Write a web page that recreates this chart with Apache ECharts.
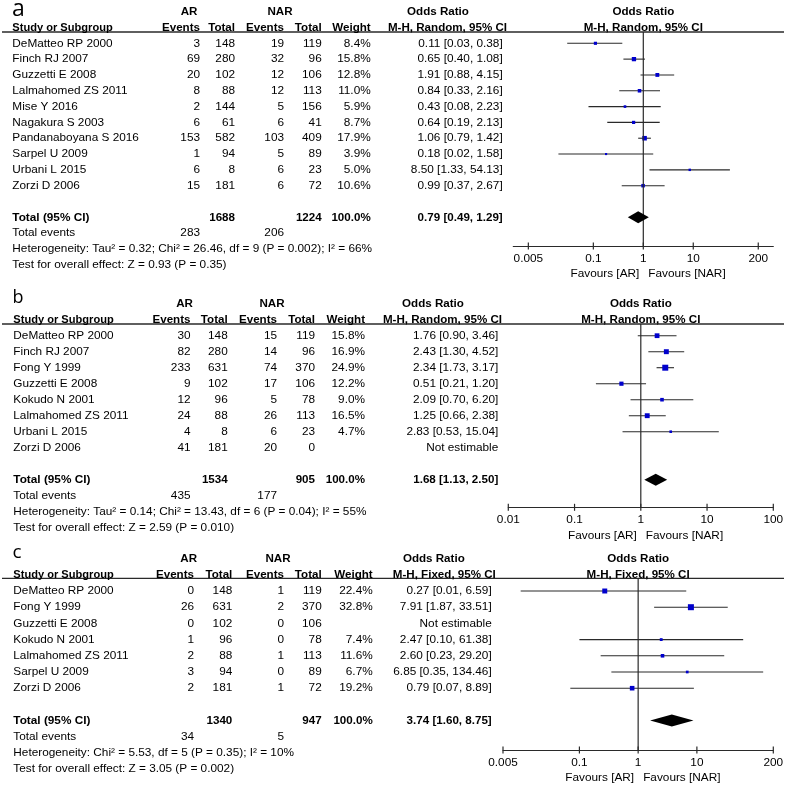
<!DOCTYPE html>
<html><head><meta charset="utf-8">
<script src="https://cdn.jsdelivr.net/npm/echarts@6/dist/echarts.min.js"></script>
<style>html,body{margin:0;padding:0;background:#fff}#c{width:787px;height:787px}</style>
</head><body><div id="c"></div>
<script>
// ---------------- Panel a ----------------
const aStudy = ['DeMatteo RP 2000','Finch RJ 2007','Guzzetti E 2008','Lalmahomed ZS 2011','Mise Y 2016','Nagakura S 2003','Pandanaboyana S 2016','Sarpel U 2009','Urbani L 2015','Zorzi D 2006'];
const aEventsAR = [3,69,20,8,2,6,153,1,6,15];
const aTotalAR = [148,280,102,88,144,61,582,94,8,181];
const aEventsNAR = [19,32,12,12,5,6,103,5,6,6];
const aTotalNAR = [119,96,106,113,156,41,409,89,23,72];
const aWeight = [8.4,15.8,12.8,11.0,5.9,8.7,17.9,3.9,5.0,10.6];
const aOR = [0.11,0.65,1.91,0.84,0.43,0.64,1.06,0.18,8.50,0.99];
const aLower = [0.03,0.40,0.88,0.33,0.08,0.19,0.79,0.02,1.33,0.37];
const aUpper = [0.38,1.08,4.15,2.16,2.23,2.13,1.42,1.58,54.13,2.67];
const aTotals = [1688,1224];
const aTotalEvents = [283,206];
const aPooled = [0.79,0.49,1.29];
const aMethod = 'M-H, Random, 95% CI';
const aHeterogeneity = 'Heterogeneity: Tau\u00b2 = 0.32; Chi\u00b2 = 26.46, df = 9 (P = 0.002); I\u00b2 = 66%';
const aOverall = 'Test for overall effect: Z = 0.93 (P = 0.35)';
const aTicks = [0.005,0.1,1,10,200];
const aTickLabels = ['0.005','0.1','1','10','200'];

// ---------------- Panel b ----------------
const bStudy = ['DeMatteo RP 2000','Finch RJ 2007','Fong Y 1999','Guzzetti E 2008','Kokudo N 2001','Lalmahomed ZS 2011','Urbani L 2015','Zorzi D 2006'];
const bEventsAR = [30,82,233,9,12,24,4,41];
const bTotalAR = [148,280,631,102,96,88,8,181];
const bEventsNAR = [15,14,74,17,5,26,6,20];
const bTotalNAR = [119,96,370,106,78,113,23,0];
const bWeight = [15.8,16.9,24.9,12.2,9.0,16.5,4.7,null];
const bOR = [1.76,2.43,2.34,0.51,2.09,1.25,2.83,null];
const bLower = [0.90,1.30,1.73,0.21,0.70,0.66,0.53,null];
const bUpper = [3.46,4.52,3.17,1.20,6.20,2.38,15.04,null];
const bTotals = [1534,905];
const bTotalEvents = [435,177];
const bPooled = [1.68,1.13,2.50];
const bMethod = 'M-H, Random, 95% CI';
const bHeterogeneity = 'Heterogeneity: Tau\u00b2 = 0.14; Chi\u00b2 = 13.43, df = 6 (P = 0.04); I\u00b2 = 55%';
const bOverall = 'Test for overall effect: Z = 2.59 (P = 0.010)';
const bTicks = [0.01,0.1,1,10,100];
const bTickLabels = ['0.01','0.1','1','10','100'];

// ---------------- Panel c ----------------
const cStudy = ['DeMatteo RP 2000','Fong Y 1999','Guzzetti E 2008','Kokudo N 2001','Lalmahomed ZS 2011','Sarpel U 2009','Zorzi D 2006'];
const cEventsAR = [0,26,0,1,2,3,2];
const cTotalAR = [148,631,102,96,88,94,181];
const cEventsNAR = [1,2,0,0,1,0,1];
const cTotalNAR = [119,370,106,78,113,89,72];
const cWeight = [22.4,32.8,null,7.4,11.6,6.7,19.2];
const cOR = [0.27,7.91,null,2.47,2.60,6.85,0.79];
const cLower = [0.01,1.87,null,0.10,0.23,0.35,0.07];
const cUpper = [6.59,33.51,null,61.38,29.20,134.46,8.89];
const cTotals = [1340,947];
const cTotalEvents = [34,5];
const cPooled = [3.74,1.60,8.75];
const cMethod = 'M-H, Fixed, 95% CI';
const cHeterogeneity = 'Heterogeneity: Chi\u00b2 = 5.53, df = 5 (P = 0.35); I\u00b2 = 10%';
const cOverall = 'Test for overall effect: Z = 3.05 (P = 0.002)';
const cTicks = [0.005,0.1,1,10,200];
const cTickLabels = ['0.005','0.1','1','10','200'];

// ---------------- Layout (pixels) ----------------
const layoutA = {letter:'a', letterX:12, letterY:9, letterSize:23, top:32, bottom:246, y0:43.3, dy:15.82,
  left:513.3, right:773.3, xMin:0.0025, xMax:400,
  colStudy:12.3, colEvAR:200, colTotAR:235, colEvNAR:284, colTotNAR:321.7, colW:370.7, colOR:502.7,
  arC:189, narC:280, orHdrC:438, mhHdrC:447.5, boxK:1.08};
const layoutB = {letter:'b', letterX:12.5, letterY:297.5, letterSize:18, top:324, bottom:507.3, y0:335.7, dy:16,
  left:508.3, right:773.3, xMin:0.01, xMax:100,
  colStudy:13.3, colEvAR:190.5, colTotAR:227.7, colEvNAR:277, colTotNAR:315, colW:365, colOR:498.3,
  arC:184.5, narC:272, orHdrC:433, mhHdrC:442.5, boxK:1.2};
const layoutC = {letter:'c', letterX:12.5, letterY:553, letterSize:19, top:578.3, bottom:750, y0:591, dy:16.2,
  left:503, right:773.3, xMin:0.005, xMax:200,
  colStudy:13.3, colEvAR:194, colTotAR:232.3, colEvNAR:284, colTotNAR:321.7, colW:372.7, colOR:491.7,
  arC:188.7, narC:278, orHdrC:433.8, mhHdrC:444.3, boxK:1.05};

const panels = [
  {L:layoutA, study:aStudy, evAR:aEventsAR, totAR:aTotalAR, evNAR:aEventsNAR, totNAR:aTotalNAR, weight:aWeight, or:aOR, lo:aLower, hi:aUpper,
   totals:aTotals, totalEvents:aTotalEvents, pooled:aPooled, method:aMethod, het:aHeterogeneity, overall:aOverall, ticks:aTicks, tickLabels:aTickLabels},
  {L:layoutB, study:bStudy, evAR:bEventsAR, totAR:bTotalAR, evNAR:bEventsNAR, totNAR:bTotalNAR, weight:bWeight, or:bOR, lo:bLower, hi:bUpper,
   totals:bTotals, totalEvents:bTotalEvents, pooled:bPooled, method:bMethod, het:bHeterogeneity, overall:bOverall, ticks:bTicks, tickLabels:bTickLabels},
  {L:layoutC, study:cStudy, evAR:cEventsAR, totAR:cTotalAR, evNAR:cEventsNAR, totNAR:cTotalNAR, weight:cWeight, or:cOR, lo:cLower, hi:cUpper,
   totals:cTotals, totalEvents:cTotalEvents, pooled:cPooled, method:cMethod, het:cHeterogeneity, overall:cOverall, ticks:cTicks, tickLabels:cTickLabels}
];

const FAMILY = '"Liberation Sans", Arial, Helvetica, sans-serif';
const FS = 11.8;
const FSB = 11.6;
const INK = '#000';
const LINE = '#2a2a2a';
const BOX = '#0000CC';

function T(x, y, s, align, bold, size, family) {
  return {type:'text', x:x, y:y, silent:true,
    style:{text:s, align:align || 'left', verticalAlign:'middle', fill:INK,
      fontSize:size || (bold ? FSB : FS), fontFamily:family || FAMILY, fontWeight:bold ? 'bold' : 'normal'}};
}
function Ln(x1, y1, x2, y2, w) {
  return {type:'line', silent:true, shape:{x1:x1, y1:y1, x2:x2, y2:y2}, style:{stroke:LINE, lineWidth:w || 1}};
}
function ciText(o, l, h) { return o.toFixed(2) + ' [' + l.toFixed(2) + ', ' + h.toFixed(2) + ']'; }

function yRange(L) {
  return [(L.top - L.y0) / L.dy, (L.bottom - L.y0) / L.dy];
}

function studyRender(p) {
  const L = p.L;
  return function (params, api) {
    const i = params.dataIndex;
    const y = api.coord([1, i])[1];
    const ch = [
      T(L.colStudy, y, p.study[i], 'left'),
      T(L.colEvAR, y, String(p.evAR[i]), 'right'),
      T(L.colTotAR, y, String(p.totAR[i]), 'right'),
      T(L.colEvNAR, y, String(p.evNAR[i]), 'right'),
      T(L.colTotNAR, y, String(p.totNAR[i]), 'right')
    ];
    if (p.or[i] == null) {
      ch.push(T(L.colOR, y, 'Not estimable', 'right'));
    } else {
      ch.push(T(L.colW, y, p.weight[i].toFixed(1) + '%', 'right'));
      ch.push(T(L.colOR, y, ciText(p.or[i], p.lo[i], p.hi[i]), 'right'));
      const xl = api.coord([p.lo[i], i])[0];
      const xh = api.coord([p.hi[i], i])[0];
      const xc = api.coord([p.or[i], i])[0];
      ch.push(Ln(xl, y, xh, y, 1.1));
      const s = L.boxK * Math.sqrt(p.weight[i]);
      ch.push({type:'rect', silent:true, shape:{x:xc - s / 2, y:y - s / 2, width:s, height:s}, style:{fill:BOX}});
    }
    return {type:'group', children:ch};
  };
}

function frameRender(p) {
  const L = p.L;
  const yr = yRange(L);
  const n = p.study.length;
  return function (params, api) {
    const row = r => api.coord([1, r])[1];
    const x1 = api.coord([1, 0])[0];
    const yTop = row(yr[0]);
    const yAx = row(yr[1]);
    const ch = [];
    ch.push(Ln(2, yTop, 784, yTop, 1.3));
    ch.push(Ln(x1, yTop, x1, yAx, 1.2));
    p.ticks.forEach(v => {
      const x = api.coord([v, 0])[0];
      ch.push(Ln(x, yAx - 3.5, x, yAx + 3.5, 1.2));
    });
    const yh1 = row(-2), yh2 = row(-1);
    ch.push(T(L.letterX, L.letterY, L.letter, 'left', false, L.letterSize, '"Open Sans", "DejaVu Sans", sans-serif'));
    ch.push(T(L.arC, yh1, 'AR', 'center', true));
    ch.push(T(L.narC, yh1, 'NAR', 'center', true));
    ch.push(T(L.orHdrC, yh1, 'Odds Ratio', 'center', true));
    ch.push(T(x1, yh1, 'Odds Ratio', 'center', true));
    ch.push(T(L.colStudy, yh2, 'Study or Subgroup', 'left', true, 11.1));
    ch.push(T(L.colEvAR, yh2, 'Events', 'right', true));
    ch.push(T(L.colTotAR, yh2, 'Total', 'right', true));
    ch.push(T(L.colEvNAR, yh2, 'Events', 'right', true));
    ch.push(T(L.colTotNAR, yh2, 'Total', 'right', true));
    ch.push(T(L.colW, yh2, 'Weight', 'right', true));
    ch.push(T(L.mhHdrC, yh2, p.method, 'center', true));
    ch.push(T(x1, yh2, p.method, 'center', true));
    // total row
    const yt = row(n + 1);
    ch.push(T(L.colStudy, yt, 'Total (95% CI)', 'left', true, FS));
    ch.push(T(L.colTotAR, yt, String(p.totals[0]), 'right', true));
    ch.push(T(L.colTotNAR, yt, String(p.totals[1]), 'right', true));
    ch.push(T(L.colW, yt, '100.0%', 'right', true));
    ch.push(T(L.colOR, yt, ciText(p.pooled[0], p.pooled[1], p.pooled[2]), 'right', true));
    const dl = api.coord([p.pooled[1], n + 1])[0];
    const dc = api.coord([p.pooled[0], n + 1])[0];
    const dh = api.coord([p.pooled[2], n + 1])[0];
    ch.push({type:'polygon', silent:true, shape:{points:[[dl, yt], [dc, yt - 6], [dh, yt], [dc, yt + 6]]}, style:{fill:'#000'}});
    const ye = row(n + 2);
    ch.push(T(L.colStudy, ye, 'Total events', 'left'));
    ch.push(T(L.colEvAR, ye, String(p.totalEvents[0]), 'right'));
    ch.push(T(L.colEvNAR, ye, String(p.totalEvents[1]), 'right'));
    ch.push(T(L.colStudy, row(n + 3), p.het, 'left'));
    ch.push(T(L.colStudy, row(n + 4), p.overall, 'left'));
    ch.push(T(x1 - 4, yAx + 28, 'Favours [AR]', 'right'));
    ch.push(T(x1 + 5, yAx + 28, 'Favours [NAR]', 'left'));
    return {type:'group', children:ch};
  };
}

const grids = [], xAxes = [], yAxes = [], series = [];
panels.forEach((p, k) => {
  const L = p.L;
  const yr = yRange(L);
  grids.push({left:L.left, top:L.top, width:L.right - L.left, height:L.bottom - L.top, containLabel:false});
  xAxes.push({type:'log', logBase:10, gridIndex:k, min:L.xMin, max:L.xMax, position:'bottom',
    axisLine:{show:true, onZero:false, lineStyle:{color:LINE, width:1.2}},
    axisTick:{show:false}, splitLine:{show:false}, minorTick:{show:false},
    axisLabel:{show:true, customValues:p.ticks, margin:6.5, color:INK, fontSize:FS, fontFamily:FAMILY,
      hideOverlap:false,
      formatter:function (v) {
        const j = p.ticks.findIndex(t => Math.abs(Math.log10(t) - Math.log10(v)) < 1e-6);
        return j >= 0 ? p.tickLabels[j] : '';
      }}});
  yAxes.push({type:'value', gridIndex:k, inverse:true, min:yr[0], max:yr[1], show:false, splitLine:{show:false}});
  series.push({type:'custom', xAxisIndex:k, yAxisIndex:k, clip:false, silent:true,
    renderItem:studyRender(p),
    data:p.study.map((s, i) => [p.or[i] == null ? 1 : p.or[i], i])});
  series.push({type:'custom', xAxisIndex:k, yAxisIndex:k, clip:false, silent:true,
    renderItem:frameRender(p),
    data:[[p.pooled[0], p.study.length + 1]]});
});

const chart = echarts.init(document.getElementById('c'), null, {renderer:'canvas'});
chart.setOption({animation:false, backgroundColor:'#fff', grid:grids, xAxis:xAxes, yAxis:yAxes, series:series});
</script>
</body></html>
